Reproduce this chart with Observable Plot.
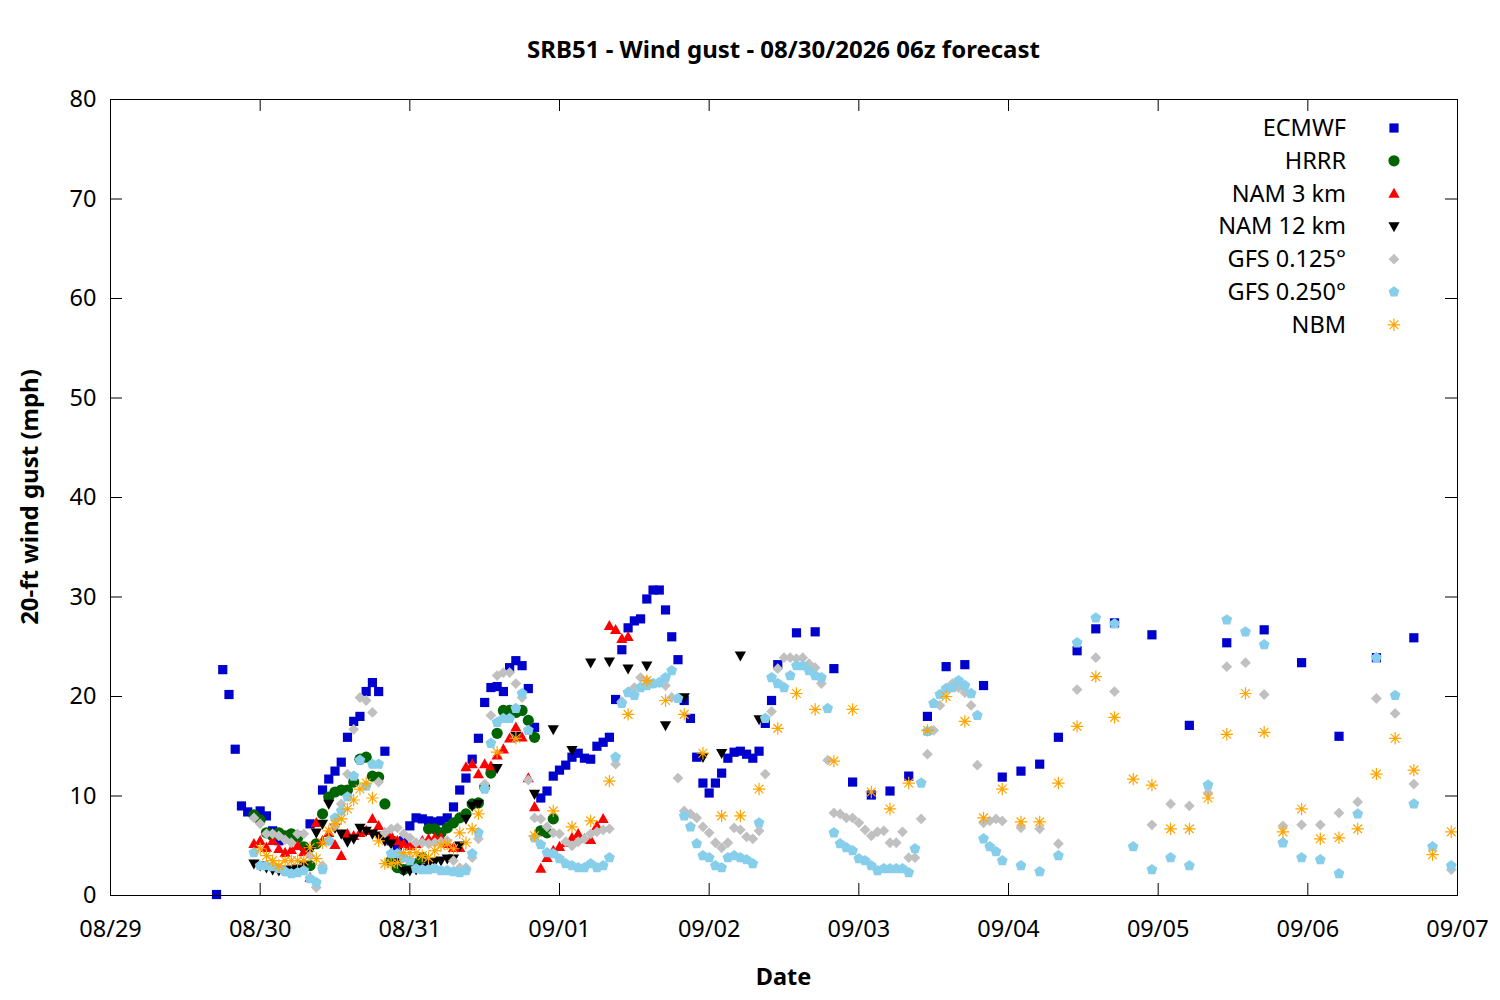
<!DOCTYPE html>
<html><head><meta charset="utf-8">
<script src="https://cdn.jsdelivr.net/npm/d3@7"></script>
<script src="https://cdn.jsdelivr.net/npm/@observablehq/plot@0.6"></script>
<style>body{margin:0;background:#fff}svg{font-family:"Noto Sans",sans-serif}</style>
</head><body><div id="chart"></div>
<script>
// hours since 08/29 00:00 local, gust mph
const ECMWF = [[17,0.1],[18,22.7],[19,20.2],[20,14.7],[21,9.0],[22,8.4],[24,8.5],[25,8.0],[26,6.5],[27,5.5],[30,6.0],[32,7.2],[34,10.6],[35,11.7],[36,12.5],[37,13.4],[38,15.9],[39,17.5],[40,18.0],[41,20.5],[42,21.4],[43,20.5],[44,14.5],[45,5.5],[46,4.8],[47,5.5],[48,7.0],[49,7.8],[50,7.7],[51,7.5],[52,7.4],[53,7.5],[54,7.8],[55,8.9],[56,10.6],[57,11.8],[58,13.7],[59,15.8],[60,19.4],[61,20.9],[62,21.0],[63,20.5],[64,22.9],[65,23.6],[66,23.1],[67,20.8],[68,16.9],[69,9.8],[70,10.5],[71,12.0],[72,12.6],[73,13.1],[74,13.9],[75,14.3],[76,13.8],[77,13.7],[78,15.0],[79,15.4],[80,15.9],[81,19.7],[82,24.7],[83,26.9],[84,27.6],[85,27.8],[86,29.8],[87,30.7],[88,30.7],[89,28.7],[90,26.0],[91,23.7],[92,19.6],[93,17.8],[94,13.9],[95,11.3],[96,10.3],[97,11.3],[98,12.3],[99,13.8],[100,14.4],[101,14.5],[102,14.2],[103,13.8],[104,14.5],[105,17.3],[106,19.6],[107,23.2],[110,26.4],[113,26.5],[116,22.8],[119,11.4],[122,10.1],[125,10.5],[128,12.0],[131,18.0],[134,23.0],[137,23.2],[140,21.1],[143,11.9],[146,12.5],[149,13.2],[152,15.9],[155,24.6],[158,26.8],[161,27.4],[167,26.2],[173,17.1],[179,25.4],[185,26.7],[191,23.4],[197,16.0],[203,23.9],[209,25.9]];
const HRRR = [[23,8.1],[24,7.6],[25,6.3],[26,6.0],[27,6.3],[28,6.0],[29,6.2],[30,5.8],[31,4.9],[32,3.0],[33,5.2],[34,8.2],[35,9.9],[36,10.4],[37,10.6],[38,10.6],[39,11.4],[40,13.7],[41,13.9],[42,12.0],[43,11.9],[44,9.2],[45,3.5],[46,2.8],[47,2.6],[48,2.8],[49,3.2],[50,3.8],[51,6.7],[52,6.7],[53,6.3],[54,6.8],[55,7.3],[56,7.8],[57,8.2],[58,9.2],[59,9.3],[60,10.9],[61,12.3],[62,16.3],[63,18.6],[64,18.6],[65,18.4],[66,18.6],[67,17.6],[68,15.9],[69,6.5],[70,6.3],[71,7.7]];
const NAM3 = [[23,5.2],[24,5.5],[25,4.8],[26,5.5],[27,4.7],[28,4.3],[29,4.6],[30,5.0],[31,4.4],[32,1.8],[33,7.3],[34,5.5],[35,6.3],[36,5.1],[37,4.0],[38,6.2],[39,6.0],[40,6.3],[41,6.5],[42,7.7],[43,7.0],[44,6.3],[45,6.0],[46,5.5],[47,5.2],[48,5.0],[49,5.2],[50,5.5],[51,5.7],[52,5.8],[53,5.8],[54,5.2],[55,4.8],[56,4.8],[57,12.9],[58,13.2],[59,12.2],[60,13.2],[61,13.0],[62,14.1],[63,14.7],[64,15.8],[65,16.9],[66,15.9],[67,11.8],[68,8.9],[69,2.7],[70,3.8],[71,4.5],[72,4.9],[73,5.3],[74,5.8],[75,6.2],[76,5.7],[77,5.6],[78,7.0],[79,7.7],[80,27.1],[81,26.7],[82,25.8],[83,26.0]];
const NAM12 = [[23,3.2],[24,3.0],[25,2.8],[26,2.6],[27,2.5],[28,2.5],[29,2.6],[30,2.7],[31,3.0],[32,4.5],[33,6.3],[34,7.2],[35,9.2],[36,6.8],[37,6.2],[38,5.4],[39,5.7],[40,6.8],[41,6.5],[42,6.2],[43,6.0],[44,5.5],[45,5.2],[46,3.5],[47,2.5],[48,2.5],[49,2.6],[50,2.8],[51,3.2],[52,3.4],[53,3.5],[54,3.7],[55,3.7],[56,5.0],[57,7.7],[58,9.0],[59,9.2],[62,12.8],[65,16.0],[68,10.2],[71,16.7],[74,14.6],[77,23.4],[80,23.5],[83,22.8],[86,23.1],[89,17.1],[92,19.9],[95,13.9],[98,14.3],[101,24.1],[104,17.7]];
const GFS125 = [[23,7.8],[24,7.2],[25,6.2],[26,6.2],[27,6.0],[28,5.6],[29,5.3],[30,6.2],[31,6.2],[32,4.0],[33,0.8],[34,3.0],[35,5.5],[36,7.0],[37,9.2],[38,12.2],[39,16.7],[40,19.9],[41,19.6],[42,18.4],[43,11.4],[44,6.3],[45,6.7],[46,6.8],[47,6.2],[48,5.8],[49,5.3],[50,5.3],[51,5.2],[52,5.3],[53,5.4],[54,5.5],[55,3.5],[56,2.8],[57,2.8],[58,3.8],[59,5.7],[60,11.2],[61,18.1],[62,22.1],[63,22.4],[64,22.4],[65,21.3],[66,19.9],[67,11.6],[68,7.8],[69,7.7],[70,6.9],[71,6.3],[72,6.2],[73,5.4],[74,5.0],[75,5.4],[76,5.7],[77,6.2],[78,6.4],[79,6.6],[80,6.7],[81,13.2],[82,19.5],[83,20.5],[84,20.9],[85,21.9],[86,21.6],[87,21.3],[88,21.4],[89,21.1],[90,19.9],[91,11.8],[92,8.5],[93,8.2],[94,7.8],[95,6.9],[96,6.3],[97,5.3],[98,4.8],[99,5.3],[100,6.8],[101,6.6],[102,5.9],[103,5.7],[104,6.5],[105,12.2],[106,18.5],[107,22.8],[108,23.9],[109,23.9],[110,23.8],[111,23.9],[112,23.3],[113,22.9],[114,21.3],[115,13.6],[116,8.3],[117,8.2],[118,7.8],[119,7.8],[120,7.3],[121,6.6],[122,6.0],[123,6.4],[124,6.5],[125,5.3],[126,5.3],[127,6.4],[128,3.8],[129,3.8],[130,7.7],[131,14.2],[132,16.6],[133,19.1],[134,20.8],[135,21.3],[136,20.9],[137,20.4],[138,19.1],[139,13.1],[140,7.3],[141,7.5],[142,7.7],[143,7.5],[146,6.8],[149,6.7],[152,5.2],[155,20.7],[158,23.9],[161,20.5],[167,7.1],[170,9.2],[173,9.0],[176,10.3],[179,23.0],[182,23.4],[185,20.2],[188,7.0],[191,7.1],[194,7.1],[197,8.3],[200,9.4],[203,19.8],[206,18.3],[209,11.2],[215,2.6]];
const GFS250 = [[23,4.3],[24,3.0],[25,3.0],[26,2.9],[27,2.7],[28,2.4],[29,2.2],[30,2.3],[31,2.5],[32,1.7],[33,1.3],[34,2.6],[35,5.5],[36,7.8],[37,8.5],[38,9.9],[39,12.0],[40,13.6],[41,11.0],[42,13.2],[43,13.2],[45,4.2],[46,4.2],[47,3.8],[48,3.5],[49,2.7],[50,2.6],[51,2.6],[52,2.7],[53,2.5],[54,2.5],[55,2.4],[56,2.3],[57,2.5],[58,4.2],[59,6.3],[60,10.7],[61,15.3],[62,17.4],[63,17.8],[64,17.8],[65,18.8],[66,20.3],[67,16.6],[68,5.8],[69,5.1],[70,4.3],[71,4.2],[72,3.7],[73,3.2],[74,3.0],[75,2.8],[76,2.8],[77,3.2],[78,2.8],[79,3.0],[80,3.8],[81,13.9],[82,19.3],[83,20.4],[84,20.1],[85,20.9],[86,21.1],[87,21.3],[88,21.4],[89,21.9],[90,22.6],[91,19.8],[92,8.0],[93,6.9],[94,5.2],[95,4.0],[96,3.8],[97,3.0],[98,2.8],[99,3.8],[100,4.0],[101,3.8],[102,3.6],[103,3.2],[104,7.3],[105,17.8],[106,21.9],[107,21.3],[108,20.9],[109,22.1],[110,23.1],[111,23.1],[112,22.6],[113,22.1],[114,21.9],[115,18.8],[116,6.3],[117,5.2],[118,4.8],[119,4.5],[120,3.7],[121,3.5],[122,3.0],[123,2.5],[124,2.7],[125,2.7],[126,2.7],[127,2.7],[128,2.3],[129,4.7],[130,11.3],[131,16.5],[132,19.3],[133,20.2],[134,20.8],[135,20.9],[136,21.6],[137,21.1],[138,20.3],[139,18.1],[140,5.7],[141,4.9],[142,4.4],[143,3.5],[146,3.0],[149,2.4],[152,4.0],[155,25.4],[158,27.9],[161,27.3],[164,4.9],[167,2.6],[170,3.8],[173,3.0],[176,11.1],[179,27.7],[182,26.5],[185,25.2],[188,5.3],[191,3.8],[194,3.6],[197,2.2],[200,8.2],[203,23.9],[206,20.1],[209,9.2],[212,4.9],[215,3.0]];
const NBM = [[24,4.7],[25,4.0],[26,3.5],[27,3.0],[28,3.5],[29,3.5],[30,3.5],[31,3.5],[32,4.8],[33,3.7],[34,5.3],[35,6.5],[36,7.2],[37,7.7],[38,8.7],[39,9.6],[40,10.7],[41,11.3],[42,9.8],[43,5.5],[44,3.2],[45,3.2],[46,3.3],[47,4.3],[48,4.3],[49,4.3],[50,4.0],[51,3.8],[52,4.5],[53,5.0],[54,5.2],[55,4.7],[56,6.3],[57,5.3],[58,6.7],[59,8.2],[62,14.4],[65,15.8],[68,6.0],[71,8.5],[74,6.9],[77,7.5],[80,11.5],[83,18.2],[86,21.6],[89,19.6],[92,18.2],[95,14.3],[98,8.0],[101,8.0],[104,10.7],[107,16.8],[110,20.3],[113,18.7],[116,13.5],[119,18.7],[122,10.4],[125,8.7],[128,11.3],[131,16.6],[134,20.0],[137,17.5],[140,7.8],[143,10.7],[146,7.4],[149,7.4],[152,11.3],[155,17.0],[158,22.0],[161,17.9],[164,11.7],[167,11.1],[170,6.7],[173,6.7],[176,9.8],[179,16.2],[182,20.3],[185,16.4],[188,6.4],[191,8.7],[194,5.7],[197,5.8],[200,6.7],[203,12.2],[206,15.8],[209,12.6],[212,4.1],[215,6.4]];

const seriesNames = ["ECMWF","HRRR","NAM 3 km","NAM 12 km","GFS 0.125°","GFS 0.250°","NBM"];
const seriesColors = ["#0000cc","#006400","#ff0000","#000000","#c0c0c0","#87ceeb","#ffa500"];
const yTicks = [0,10,20,30,40,50,60,70,80];
const dayTicks = ["2026-08-29","2026-08-30","2026-08-31","2026-09-01","2026-09-02","2026-09-03","2026-09-04","2026-09-05","2026-09-06","2026-09-07"];
const titleText = "SRB51 - Wind gust - 08/30/2026 06z forecast";
const xLabel = "Date";
const yLabel = "20-ft wind gust (mph)";

const T0 = Date.UTC(2026, 7, 29);
const toDate = h => new Date(T0 + h * 3600e3);
const xTicks = dayTicks.map(s => new Date(s + "T00:00:00Z"));

function polySym(pts) {
  return {draw(ctx, size) {
    const s = Math.sqrt(size / Math.PI);
    ctx.moveTo(pts[0][0] * s, pts[0][1] * s);
    for (let i = 1; i < pts.length; i++) ctx.lineTo(pts[i][0] * s, pts[i][1] * s);
    ctx.closePath();
  }};
}
const symSquare = polySym([[-1,-1],[1,-1],[1,1],[-1,1]]);
const symCircle = {draw(ctx, size){ const s = Math.sqrt(size/Math.PI); ctx.moveTo(s,0); ctx.arc(0,0,s,0,2*Math.PI); }};
const symUp = polySym([[0,-1.05],[1,0.75],[-1,0.75]]);
const symDown = polySym([[0,1.05],[1,-0.75],[-1,-0.75]]);
const symDiamond = polySym([[0,-1],[1,0],[0,1],[-1,0]]);
const symPent = polySym(d3.range(5).map(k => [Math.cos((-90 + 72*k) * Math.PI/180), Math.sin((-90 + 72*k) * Math.PI/180)]));
const symAst = {draw(ctx, size){
  const s = Math.sqrt(size/Math.PI);
  for (let k = 0; k < 4; k++) { const a = k * Math.PI / 4; ctx.moveTo(Math.cos(a)*s, Math.sin(a)*s); ctx.lineTo(-Math.cos(a)*s, -Math.sin(a)*s); }
}};
const syms = [symSquare, symCircle, symUp, symDown, symDiamond, symPent, symAst];
const radii = [4.6, 5.6, 5.6, 5.6, 5.4, 5.7, 6.2];
const datasets = [ECMWF, HRRR, NAM3, NAM12, GFS125, GFS250, NBM];

const W = 1500, H = 1000, mL = 110, mR = 43, mT = 99, mB = 105;
const pw = W - mL - mR, ph = H - mT - mB;

const marks = [];
datasets.forEach((data, i) => {
  const stroked = i === 6;
  marks.push(Plot.dot(data, {
    x: d => toDate(d[0]), y: d => d[1],
    symbol: syms[i], r: radii[i],
    fill: stroked ? "none" : seriesColors[i],
    stroke: stroked ? seriesColors[i] : "none",
    strokeWidth: 1.2
  }));
});

const chart = Plot.plot({
  width: W, height: H,
  marginLeft: mL, marginRight: mR, marginTop: mT, marginBottom: mB,
  style: {fontFamily: "Noto Sans, sans-serif", fontSize: "23px", color: "black", background: "white"},
  x: {type: "utc", domain: [xTicks[0], xTicks[xTicks.length - 1]]},
  y: {domain: [0, 80]},
  marks: [
    ...marks,
    Plot.tickY(yTicks, {y: d => d, stroke: "black", insetRight: pw - 12}),
    Plot.tickY(yTicks, {y: d => d, stroke: "black", insetLeft: pw - 12}),
    Plot.tickX(xTicks, {x: d => d, stroke: "black", insetBottom: ph - 12}),
    Plot.tickX(xTicks, {x: d => d, stroke: "black", insetTop: ph - 12}),
    Plot.frame({stroke: "black", strokeWidth: 1}),
    Plot.axisY({ticks: yTicks, tickSize: 0, tickPadding: 14, fontSize: 23.5, label: null}),
    Plot.axisX({ticks: xTicks, tickSize: 0, tickPadding: 25, fontSize: 23.5, label: null, tickFormat: d3.utcFormat("%m/%d")})
  ]
});
document.getElementById("chart").appendChild(chart);

const svg = d3.select(chart);
svg.append("text").attr("x", mL + pw/2).attr("y", 58).attr("text-anchor", "middle")
  .attr("font-weight", "bold").attr("font-size", 24).attr("fill", "black").text(titleText);
svg.append("text").attr("x", mL + pw/2).attr("y", 985).attr("text-anchor", "middle")
  .attr("font-weight", "bold").attr("font-size", 23.5).attr("fill", "black").text(xLabel);
svg.append("text").attr("transform", "translate(38,497) rotate(-90)").attr("text-anchor", "middle")
  .attr("font-weight", "bold").attr("font-size", 24).attr("fill", "black").text(yLabel);

const lg = svg.append("g");
seriesNames.forEach((name, i) => {
  const cy = 128 + i * 32.8;
  lg.append("text").attr("x", 1346).attr("y", cy + 8).attr("text-anchor", "end")
    .attr("font-size", 23.5).attr("fill", "black").text(name);
  const r = radii[i];
  const path = d3.symbol().type(syms[i]).size(r * r * Math.PI)();
  const stroked = i === 6;
  lg.append("path").attr("d", path).attr("transform", `translate(1394,${cy})`)
    .attr("fill", stroked ? "none" : seriesColors[i])
    .attr("stroke", stroked ? seriesColors[i] : "none").attr("stroke-width", 1.2);
});
</script></body></html>
